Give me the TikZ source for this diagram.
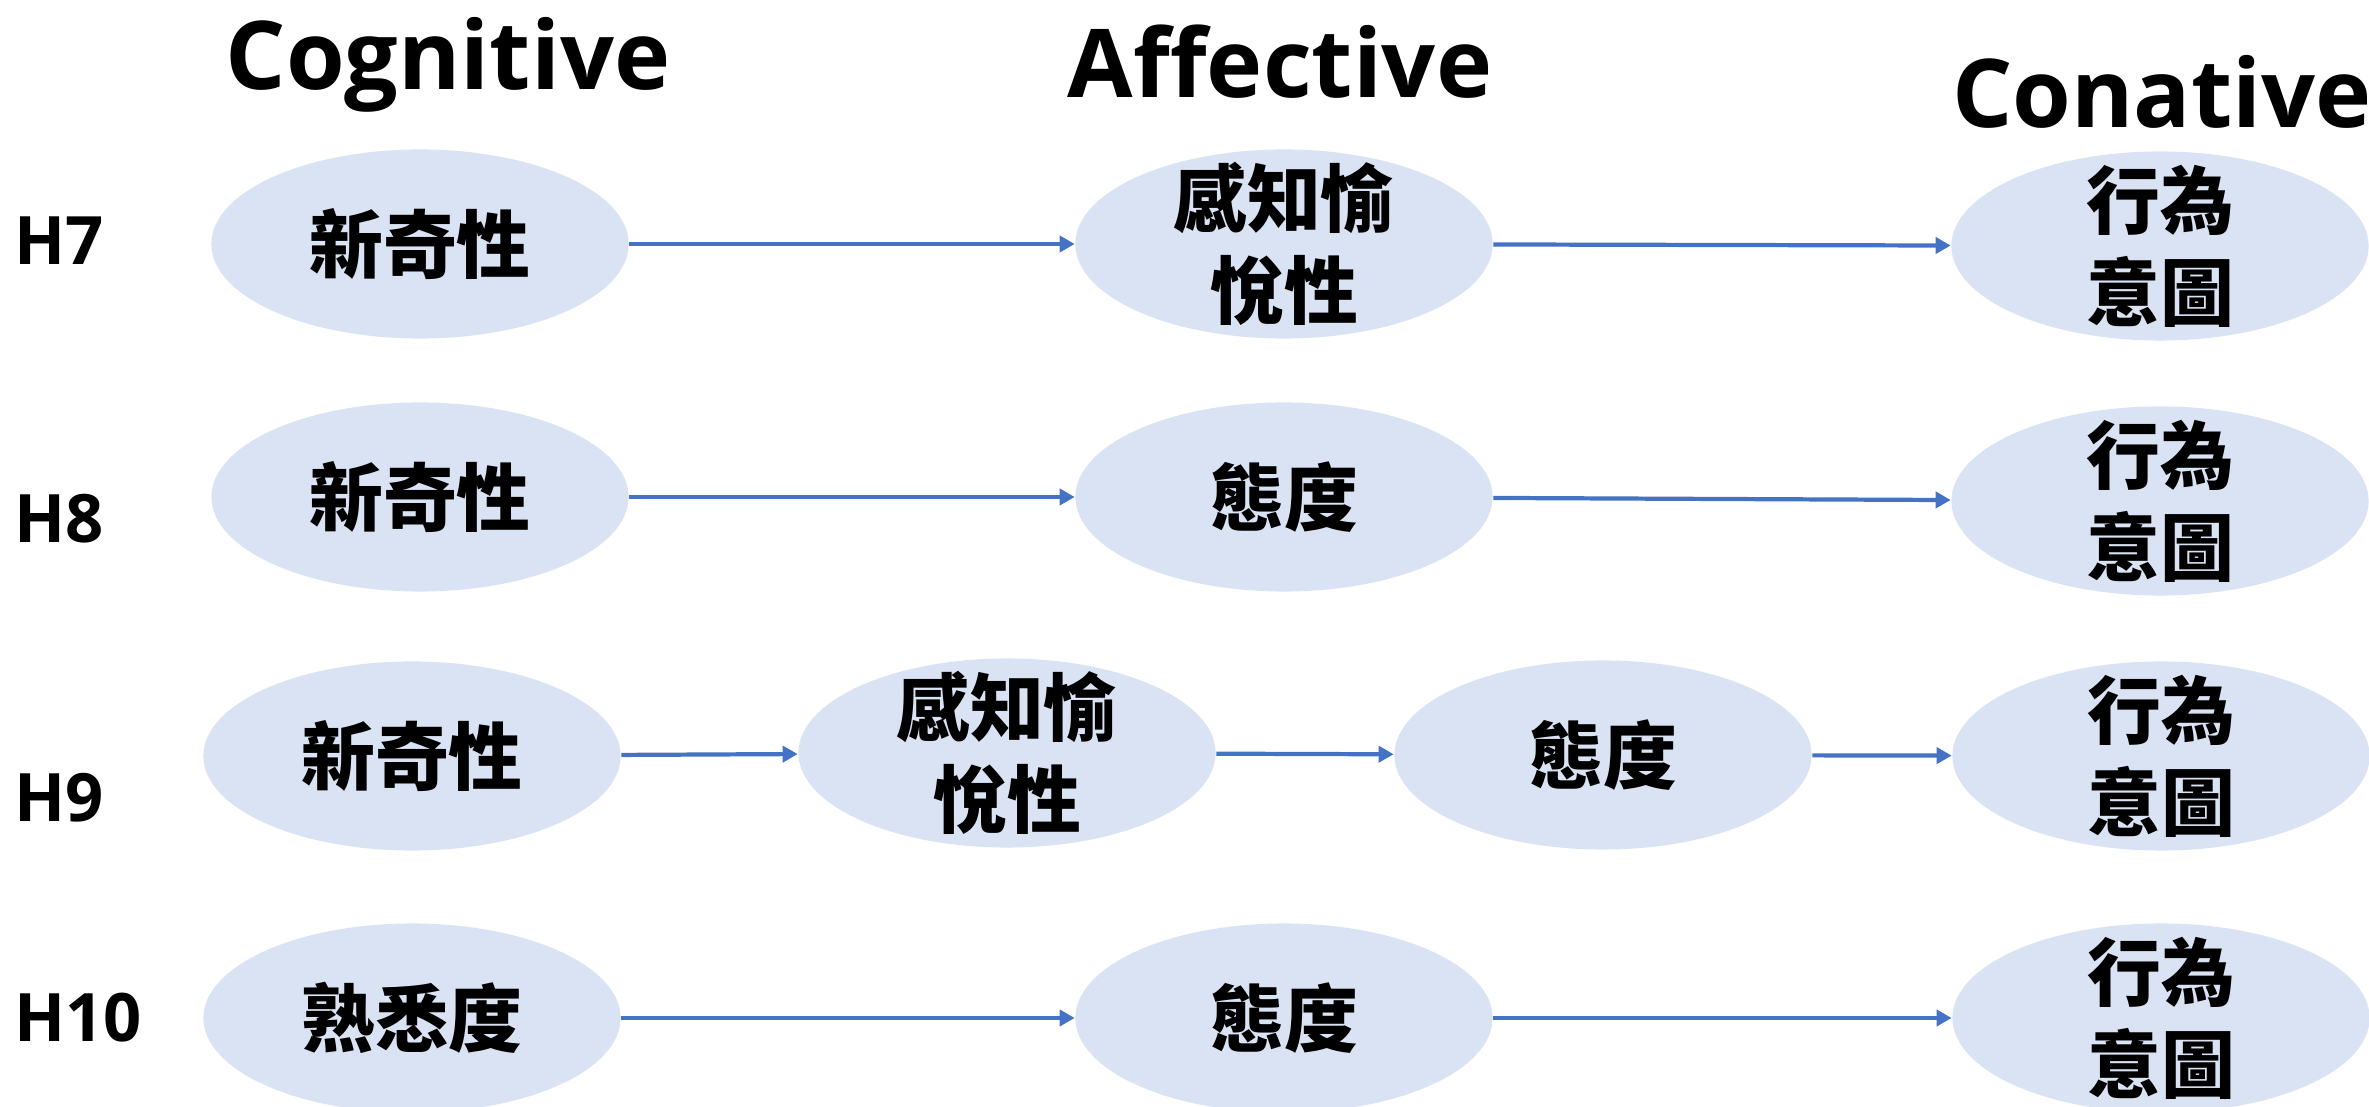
\documentclass[tikz,border=0pt]{standalone}
\usepackage{fontspec}
\setmainfont{Open Sans}
\newfontfamily\cjk{Noto Sans CJK TC}
\usetikzlibrary{shapes.geometric,arrows.meta}
\definecolor{ellfill}{HTML}{DAE3F3}
\definecolor{arrblue}{HTML}{4472C4}
\tikzset{
  ovaltext/.style={inner sep=0pt, align=center,
    font=\cjk\bfseries\fontsize{21pt}{26.2pt}\selectfont},
  oval/.style={ellipse, fill=ellfill, draw=none, minimum width=4.17cm, minimum height=1.89cm, inner sep=0pt,
    label={[ovaltext]center:#1}},
  flow/.style={draw=arrblue, line width=1.2pt, -{Triangle[length=0.15cm,width=0.16cm]}},
  header/.style={anchor=base, inner sep=0pt, font=\bfseries\fontsize{27pt}{32pt}\selectfont},
  hyp/.style={anchor=base west, inner sep=0pt, font=\bfseries\fontsize{19pt}{24pt}\selectfont}
}
\begin{document}
\begin{tikzpicture}[x=0.01cm,y=-0.01cm]
\useasboundingbox (0,0) rectangle (2369,1107);
% headers
\node[header] (hc) at (448,90) {Cognitive};
\node[header] (ha) at (1280,98) {Affective};
\node[header] (hn) at (2162,128) {Conative};
% hypothesis labels
\node[hyp] (h7) at (14,265) {H7};
\node[hyp] (h8) at (14,543) {H8};
\node[hyp] (h9) at (14,822) {H9};
\node[hyp] (h10) at (14,1042) {H10};
% row 1
\node[oval={新奇性}] (a1) at (420,244) {};
\node[oval={感知愉\\悅性}] (b1) at (1284,244) {};
\node[oval={行為\\意圖}] (c1) at (2160,246) {};
% row 2
\node[oval={新奇性}] (a2) at (420,497) {};
\node[oval={態度}] (b2) at (1284,497) {};
\node[oval={行為\\意圖}] (c2) at (2160,501) {};
% row 3
\node[oval={新奇性}] (a3) at (412,756) {};
\node[oval={感知愉\\悅性}] (b3) at (1007,753) {};
\node[oval={態度}] (d3) at (1603,755) {};
\node[oval={行為\\意圖}] (c3) at (2161,756) {};
% row 4
\node[oval={熟悉度}] (a4) at (412,1018) {};
\node[oval={態度}] (b4) at (1284,1018) {};
\node[oval={行為\\意圖}] (c4) at (2161,1018) {};
% connectors
\draw[flow] (a1) -- (b1);
\draw[flow] (b1) -- (c1);
\draw[flow] (a2) -- (b2);
\draw[flow] (b2) -- (c2);
\draw[flow] (a3) -- (b3);
\draw[flow] (b3) -- (d3);
\draw[flow] (d3) -- (c3);
\draw[flow] (a4) -- (b4);
\draw[flow] (b4) -- (c4);
\end{tikzpicture}
\end{document}
